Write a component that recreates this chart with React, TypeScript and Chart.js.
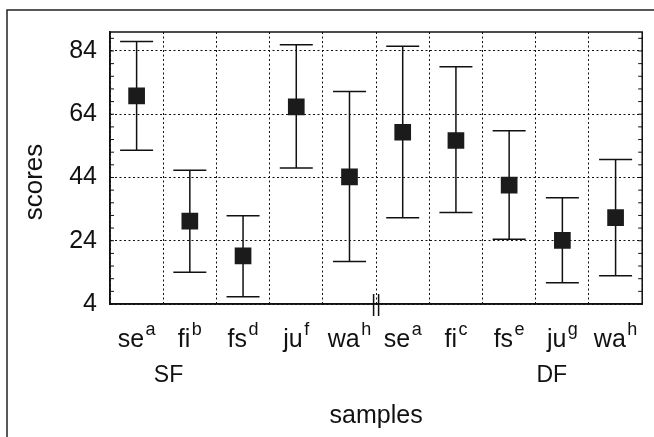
import React, { useEffect, useRef } from 'react';
import { Chart, registerables } from 'chart.js';

Chart.register(...registerables);

const categories = ['se', 'fi', 'fs', 'ju', 'wa', 'se', 'fi', 'fs', 'ju', 'wa'];
const superscripts = ['a', 'b', 'd', 'f', 'h', 'a', 'c', 'e', 'g', 'h'];
const means = [69.8, 30.2, 19.2, 66.3, 44.2, 58.3, 55.7, 41.6, 24.1, 31.3];
const upper = [87.0, 46.3, 31.9, 86.0, 71.2, 85.5, 79.0, 58.8, 37.6, 49.7];
const lower = [52.6, 14.0, 6.3, 47.0, 17.4, 31.3, 32.9, 24.5, 10.7, 12.9];
const yTicks = [4, 24, 44, 64, 84];
const yMin = 4;
const yMax = 90;
const minorStep = 4;
const groupNames = ['SF', 'DF'];
const groupAt = [0.6, 7.8];
const breakAfter = 4;

const FONT = '"Liberation Sans", Arial, Helvetica, sans-serif';
const INK = '#111';

const decor = {
  id: 'decor',
  beforeDatasetsDraw(chart: any) {
    const { ctx, scales } = chart;
    const x = scales.x, y = scales.y;
    const step = x.getPixelForValue(1) - x.getPixelForValue(0);
    const hw = step * 0.31;
    ctx.save();
    ctx.strokeStyle = INK;
    ctx.lineWidth = 1.5;
    means.forEach((_, i) => {
      const px = x.getPixelForValue(i);
      const yt = y.getPixelForValue(upper[i]);
      const yb = y.getPixelForValue(lower[i]);
      ctx.beginPath();
      ctx.moveTo(px, yt); ctx.lineTo(px, yb);
      ctx.moveTo(px - hw, yt); ctx.lineTo(px + hw, yt);
      ctx.moveTo(px - hw, yb); ctx.lineTo(px + hw, yb);
      ctx.stroke();
    });
    ctx.restore();
  },
  afterDraw(chart: any) {
    const { ctx, chartArea, scales } = chart;
    const x = scales.x, y = scales.y;
    const { left, right, top, bottom } = chartArea;
    ctx.save();
    // plot frame
    ctx.strokeStyle = INK;
    ctx.lineWidth = 1.5;
    ctx.strokeRect(left, top, right - left, bottom - top);
    // minor ticks
    ctx.lineWidth = 1;
    ctx.beginPath();
    for (let v = yMin; v <= yMax; v += minorStep) {
      const py = y.getPixelForValue(v);
      ctx.moveTo(left, py); ctx.lineTo(left + 4, py);
      ctx.moveTo(right - 4, py); ctx.lineTo(right, py);
    }
    ctx.stroke();
    // axis break
    const bx = (x.getPixelForValue(breakAfter) + x.getPixelForValue(breakAfter + 1)) / 2;
    ctx.lineWidth = 1.5;
    ctx.beginPath();
    ctx.moveTo(bx - 2.5, bottom - 10); ctx.lineTo(bx - 2.5, bottom + 12);
    ctx.moveTo(bx + 2.5, bottom - 10); ctx.lineTo(bx + 2.5, bottom + 12);
    ctx.stroke();
    // category labels with superscripts
    ctx.fillStyle = INK;
    ctx.textBaseline = 'alphabetic';
    ctx.textAlign = 'left';
    const baseFont = `25px ${FONT}`;
    const supFont = `18px ${FONT}`;
    categories.forEach((c, i) => {
      const px = x.getPixelForValue(i);
      ctx.font = baseFont;
      const wb = ctx.measureText(c).width;
      ctx.font = supFont;
      const ws = ctx.measureText(superscripts[i]).width;
      const total = wb + 1.5 + ws;
      const sx = px - total / 2;
      ctx.font = baseFont;
      ctx.fillText(c, sx, bottom + 43);
      ctx.font = supFont;
      ctx.fillText(superscripts[i], sx + wb + 1.5, bottom + 31);
    });
    // group labels
    ctx.textAlign = 'center';
    ctx.font = `23px ${FONT}`;
    groupNames.forEach((g, k) => {
      ctx.fillText(g, x.getPixelForValue(groupAt[k]), bottom + 78);
    });
    // axis titles
    ctx.font = `25px ${FONT}`;
    ctx.fillText('samples', (left + right) / 2, bottom + 119);
    ctx.save();
    ctx.translate(41.5, 182);
    ctx.rotate(-Math.PI / 2);
    ctx.font = `26px ${FONT}`;
    ctx.fillText('scores', 0, 0);
    ctx.restore();
    // outer frame (partially visible)
    ctx.strokeStyle = '#222';
    ctx.lineWidth = 1.5;
    ctx.beginPath();
    ctx.moveTo(7, 437); ctx.lineTo(7, 10); ctx.lineTo(654, 10);
    ctx.stroke();
    ctx.restore();
  },
};

export default function App() {
  const ref = useRef<HTMLCanvasElement | null>(null);
  useEffect(() => {
    if (!ref.current) return;
    const chart = new Chart(ref.current, {
      type: 'line',
      data: {
        labels: categories.map((c, i) => c + superscripts[i]),
        datasets: [
          {
            data: means,
            showLine: false,
            pointStyle: 'rect',
            pointRadius: 11.8,
            pointHoverRadius: 11.8,
            backgroundColor: '#1b1b1b',
            borderColor: '#1b1b1b',
            pointBorderWidth: 0,
          },
        ],
      },
      plugins: [decor],
      options: {
        responsive: false,
        animation: false,
        devicePixelRatio: 1,
        layout: { padding: { top: 32, right: 8, left: 0, bottom: 0 } },
        plugins: { legend: { display: false }, tooltip: { enabled: false }, title: { display: false } },
        scales: {
          x: {
            type: 'category',
            offset: true,
            grid: { display: true, offset: true, color: INK, lineWidth: 1, drawTicks: false },
            border: { display: true, color: INK, width: 1.5, dash: [2, 2.5] },
            ticks: { display: false },
            afterFit: (s: any) => { s.height = 133; },
          },
          y: {
            type: 'linear',
            min: yMin,
            max: yMax,
            afterBuildTicks: (s: any) => { s.ticks = yTicks.map((v) => ({ value: v })); },
            grid: { color: INK, lineWidth: 1, drawTicks: false },
            border: { display: true, color: INK, width: 1.5, dash: [2, 2.5] },
            ticks: { color: INK, padding: 13, font: { size: 25, family: FONT } },
            afterFit: (s: any) => { s.width = 110; },
          },
        },
      },
    } as any);
    return () => chart.destroy();
  }, []);
  return (
    <div style={{ position: 'absolute', left: 0, top: 0, width: 654, height: 437, background: '#fff' }}>
      <canvas ref={ref} width={654} height={437} style={{ width: 654, height: 437, display: 'block' }} />
    </div>
  );
}
